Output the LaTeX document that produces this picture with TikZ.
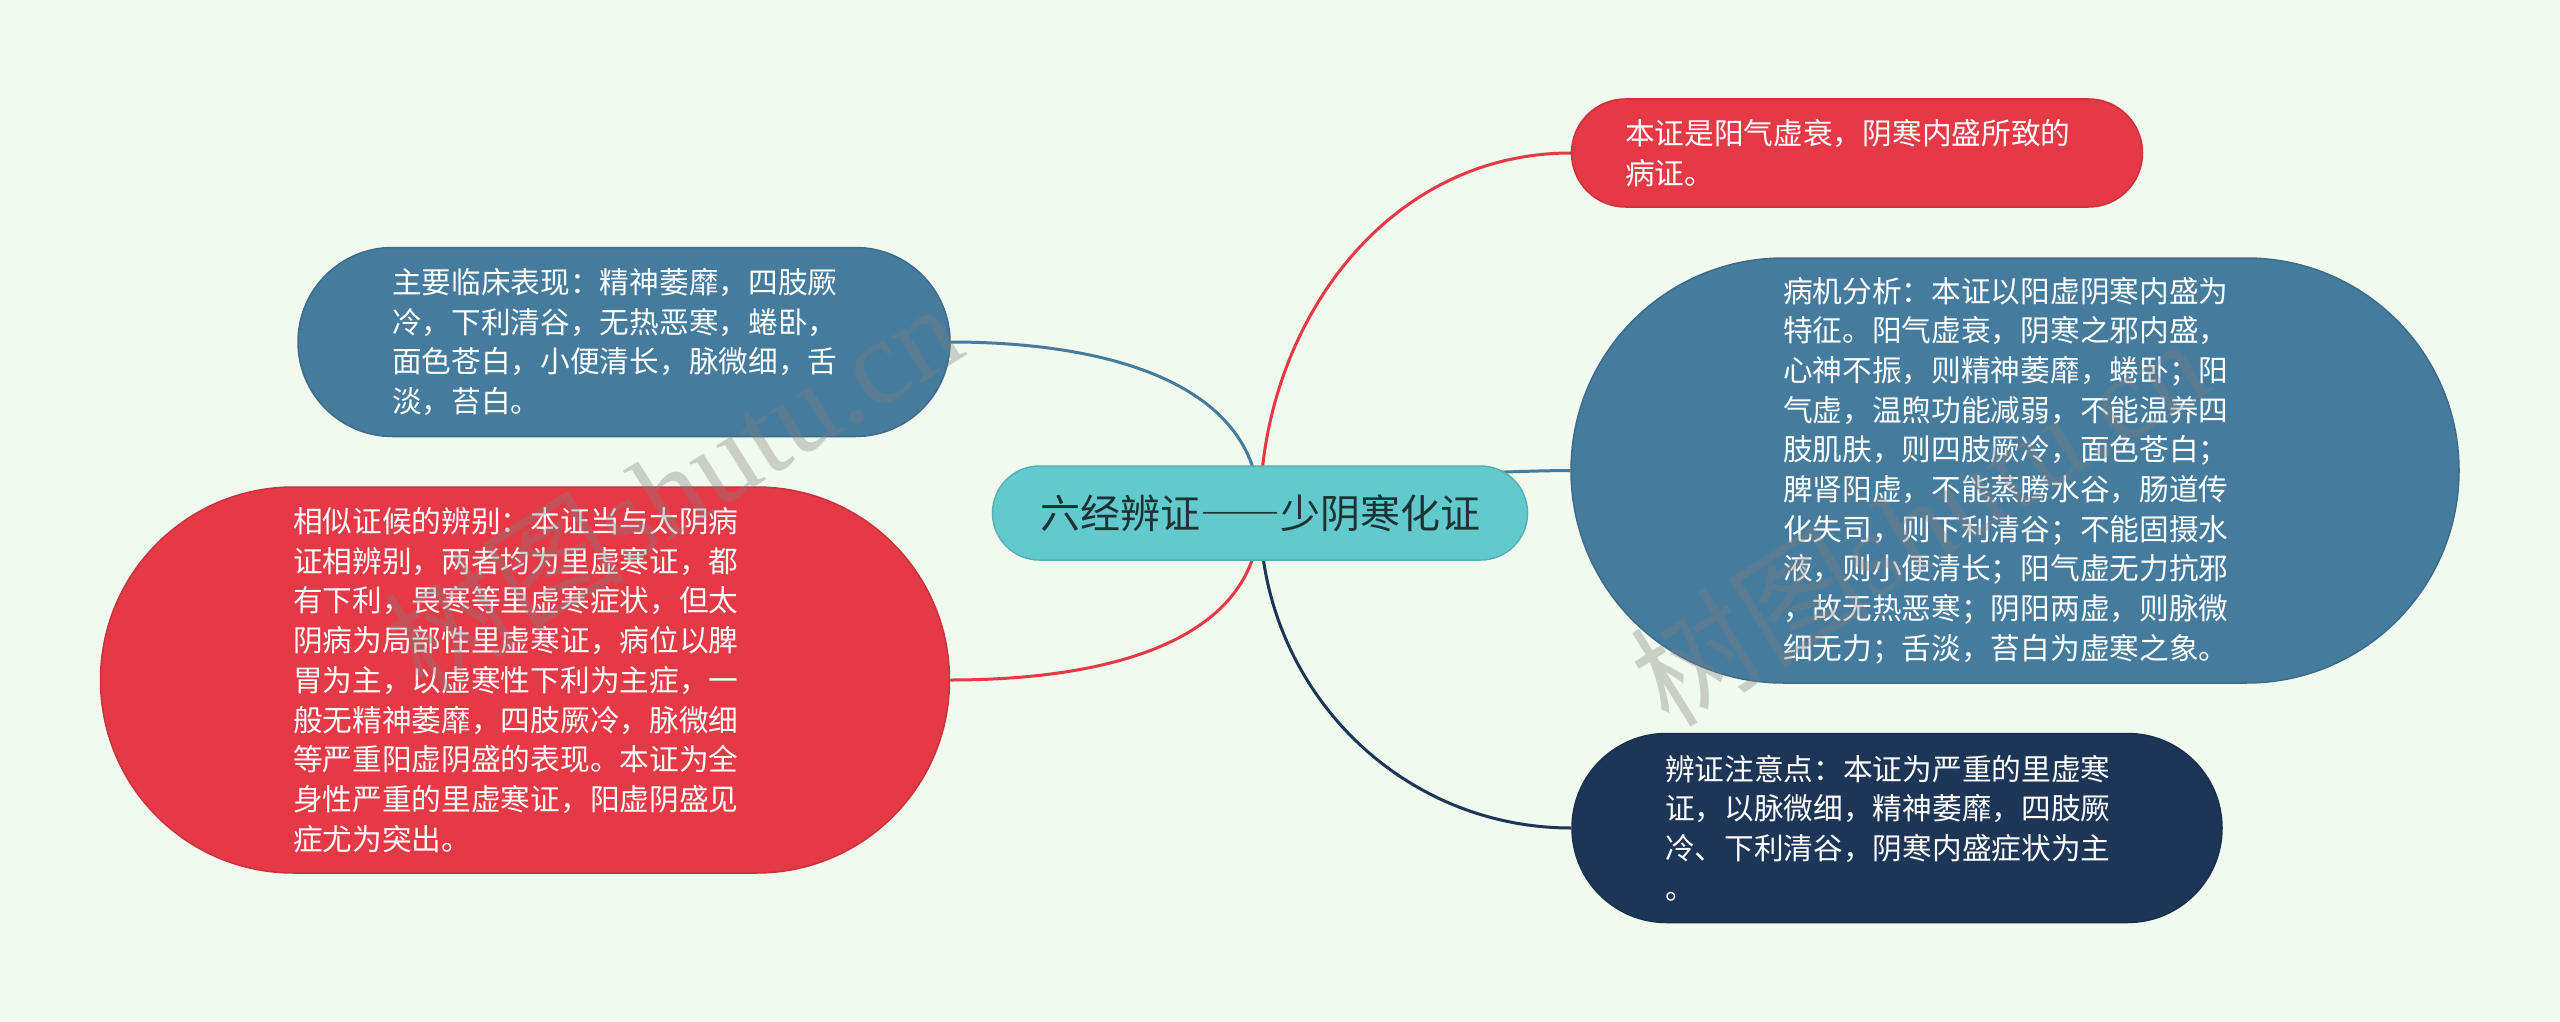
\documentclass[tikz,border=0pt]{standalone}
\usepackage{fontspec}
\setmainfont{Noto Sans CJK SC}
\newfontfamily\wmlatin{Liberation Serif}
\usetikzlibrary{shapes.misc}
\definecolor{bgcol}{HTML}{F1FAEE}
\definecolor{rootcol}{HTML}{62C9CC}
\definecolor{roottext}{HTML}{1E3133}
\definecolor{redcol}{HTML}{E63946}
\definecolor{bluecol}{HTML}{457B9D}
\definecolor{navycol}{HTML}{1D3557}
\pgfdeclarelayer{bg}
\pgfdeclarelayer{edges}
\pgfsetlayers{bg,edges,main}

\begin{document}
\begin{tikzpicture}[x=1pt,y=-1pt,
  root/.style={rounded rectangle,inner sep=0pt,fill=rootcol,draw=rootcol!88!black,line width=1.5pt,
    minimum width=535pt,minimum height=94pt,text=roottext,font=\fontsize{40}{48}\selectfont},
  leaf/.style={rounded rectangle,inner sep=0pt,line width=1.5pt,text=white,
    text width=464pt,align=left,font=\fontsize{29.7}{39.7}\selectfont},
  redleaf/.style={leaf,fill=redcol,draw=redcol!88!black},
  blueleaf/.style={leaf,fill=bluecol,draw=bluecol!88!black},
  navyleaf/.style={leaf,fill=navycol,draw=navycol!88!black},
  link/.style={line width=3pt},
  wmtext/.style={rotate=32,inner sep=0pt,text=black!50,text opacity=0.35,font=\fontsize{120}{120}\selectfont}]

\useasboundingbox (0,0) rectangle (2560,1022);
\begin{pgfonlayer}{bg}
\fill[bgcol] (0,0) rectangle (2560,1022);
\end{pgfonlayer}

\node[root] (root) at (1260,513) {六经辨证{\addfontfeatures{RawFeature=+fwid}——}少阴寒化证};

\node[redleaf,minimum width=571pt,minimum height=108pt] (cause) at (1857,153)
  {本证是阳气虚衰，阴寒内盛所致的\\病证。};
\node[blueleaf,minimum width=888pt,minimum height=425pt] (mech) at (2015,470.5)
  {病机分析：本证以阳虚阴寒内盛为\\特征。阳气虚衰，阴寒之邪内盛，\\心神不振，则精神萎靡，蜷卧；阳\\气虚，温煦功能减弱，不能温养四\\肢肌肤，则四肢厥冷，面色苍白；\\脾肾阳虚，不能蒸腾水谷，肠道传\\化失司，则下利清谷；不能固摄水\\液，则小便清长；阳气虚无力抗邪\\，故无热恶寒；阴阳两虚，则脉微\\细无力；舌淡，苔白为虚寒之象。};
\node[navyleaf,minimum width=650pt,minimum height=189pt] (note) at (1897,828)
  {辨证注意点：本证为严重的里虚寒\\证，以脉微细，精神萎靡，四肢厥\\冷、下利清谷，阴寒内盛症状为主\\。};
\node[blueleaf,minimum width=652pt,minimum height=189pt] (sign) at (624,342)
  {主要临床表现：精神萎靡，四肢厥\\冷，下利清谷，无热恶寒，蜷卧，\\面色苍白，小便清长，脉微细，舌\\淡，苔白。};
\node[redleaf,minimum width=849pt,minimum height=386pt] (diff) at (525,680)
  {相似证候的辨别：本证当与太阴病\\证相辨别，两者均为里虚寒证，都\\有下利，畏寒等里虚寒症状，但太\\阴病为局部性里虚寒证，病位以脾\\胃为主，以虚寒性下利为主症，一\\般无精神萎靡，四肢厥冷，脉微细\\等严重阳虚阴盛的表现。本证为全\\身性严重的里虚寒证，阳虚阴盛见\\症尤为突出。};

\begin{pgfonlayer}{edges}
\draw[link,redcol] (root.center) to[out=90,in=180] (cause.west);
\draw[link,bluecol] (root.center) to[out=90,in=180,looseness=0.3] (mech.west);
\draw[link,navycol] (root.center) to[out=-90,in=180] (note.west);
\draw[link,bluecol] (root.center) to[out=90,in=0] (sign.east);
\draw[link,redcol] (root.center) to[out=-90,in=0] (diff.east);
\end{pgfonlayer}

\node[wmtext] (wmleft) at (672,485) {树图{\wmlatin shutu.cn}};
\node[wmtext] (wmright) at (1918,520) {树图{\wmlatin shutu.cn}};
\end{tikzpicture}
\end{document}
